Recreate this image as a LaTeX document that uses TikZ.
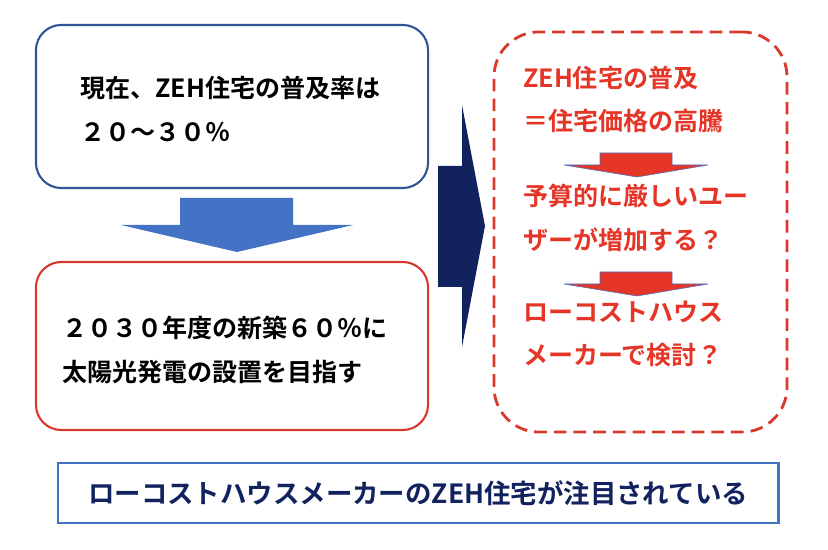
\documentclass[tikz,border=0pt]{standalone}
\usepackage{fontspec}
\setmainfont{Noto Sans CJK JP}[BoldFont={Noto Sans CJK JP Bold}]
\definecolor{boxblue}{HTML}{2F5597}
\definecolor{boxred}{HTML}{D9382C}
\definecolor{textred}{HTML}{E53527}
\definecolor{arrowblue}{HTML}{4472C4}
\definecolor{navy}{HTML}{12225E}
\definecolor{framebl}{HTML}{4472C4}
\usetikzlibrary{positioning}

\begin{document}
\begin{tikzpicture}[x=0.025cm, y=-0.025cm,
    roundbox/.style={draw, line width=1.5pt, rounded corners=18pt, minimum width=9.8cm},
    txt/.style={anchor=west, align=left, inner sep=0pt, font=\bfseries\fontsize{17.8}{31}\selectfont},
    blockarrow/.style={line width=0.4pt}]
  \useasboundingbox (0,0) rectangle (828,550);

  % left column
  \node[roundbox, draw=boxblue, minimum height=4.075cm] (now) at (232,106.5) {};
  \node[txt] (nowtxt) at (80,109) {現在、ZEH住宅の普及率は\\２０～３０％};

  \fill[arrowblue] (180,198) -- (293,198) -- (293,225) -- (353,225) -- (237,252)
    -- (121,225) -- (180,225) -- cycle;

  \node[roundbox, draw=boxred, minimum height=4.2cm] (goal) at (232,346) {};
  \node[txt] (goaltxt) at (62,350) {２０３０年度の新築６０％に\\太陽光発電の設置を目指す};

  % big arrow
  \fill[navy] (438,166) -- (462,166) -- (462,105) -- (485,226) -- (462,347)
    -- (462,287) -- (438,287) -- cycle;

  % right column
  \node[draw=boxred, dashed, dash pattern=on 9pt off 5pt, line width=2pt,
    rounded corners=32pt, minimum width=7.325cm, minimum height=10cm] (risk) at (640.5,232) {};
  \node[txt, text=textred] (price) at (523,99.5) {ZEH住宅の普及\\＝住宅価格の高騰};
  \node[txt, text=textred] (users) at (523,218) {予算的に厳しいユー\\ザーが増加する？};
  \node[txt, text=textred] (maker) at (523,334) {ローコストハウス\\メーカーで検討？};

  \foreach \y in {153,272}{
    \filldraw[fill=textred, draw=arrowblue, blockarrow] (600,\y) -- (672,\y) -- (672,\y+12)
      -- (708,\y+12) -- (637,\y+24) -- (564,\y+12) -- (600,\y+12) -- cycle;
  }

  % conclusion
  \node[draw=framebl, line width=2pt, minimum width=18cm, minimum height=1.5cm,
    text=navy, font=\bfseries\fontsize{18.8}{20}\selectfont] (result) at (418,493)
    {ローコストハウスメーカーのZEH住宅が注目されている};
\end{tikzpicture}
\end{document}
